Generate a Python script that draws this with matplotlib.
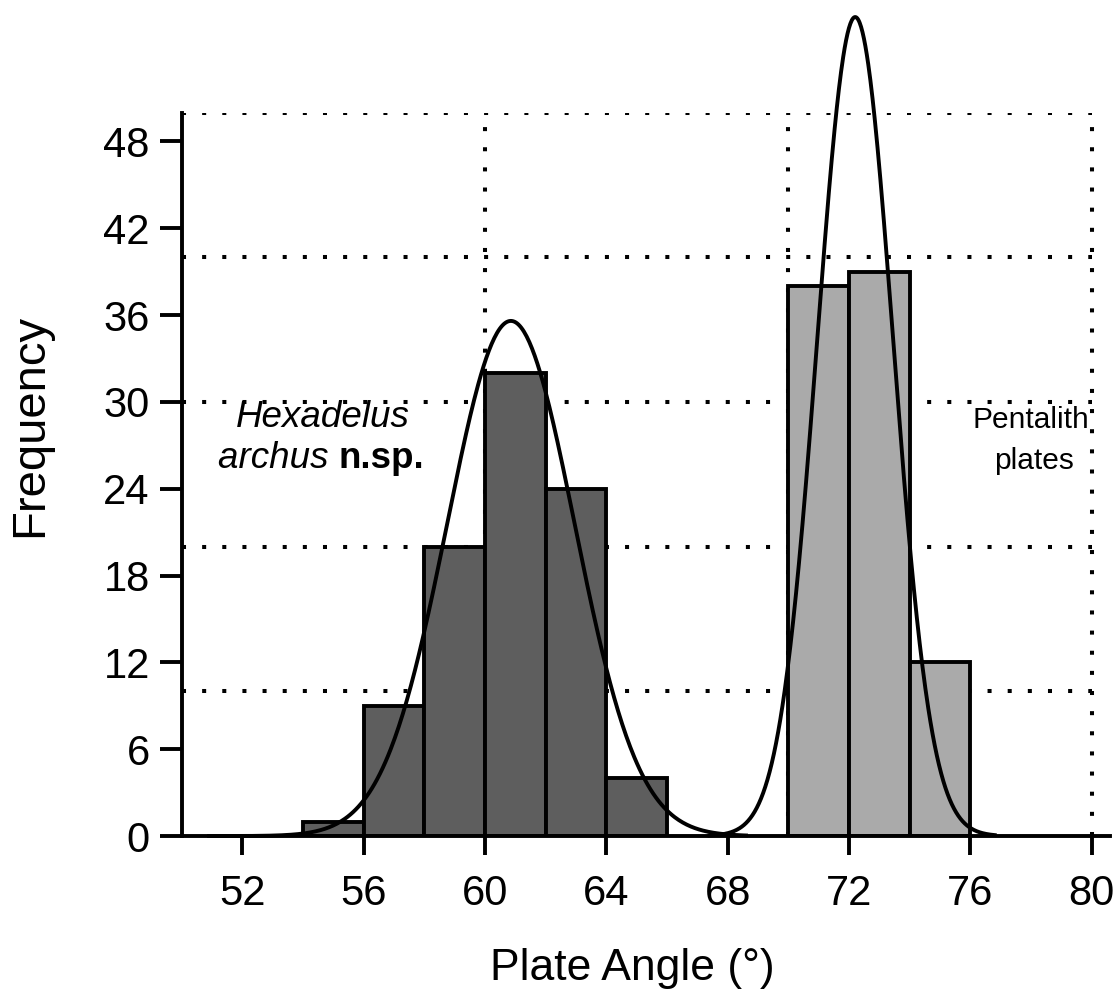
import matplotlib
matplotlib.use("Agg")
import matplotlib.pyplot as plt
import numpy as np

plt.rcParams["font.family"] = ["Liberation Sans", "DejaVu Sans"]

# histogram bins (plate angle, degrees) and counts
hex_edges = [54, 56, 58, 60, 62, 64, 66]
hex_counts = [1, 9, 20, 32, 24, 4]
pent_edges = [70, 72, 74, 76]
pent_counts = [38, 39, 12]

# fitted normal curves: mean, sd, peak height, drawn range
hex_fit = {"mean": 60.85, "sd": 2.1, "peak": 35.6, "range": (50.9, 68.6)}
pent_fit = {"mean": 72.2, "sd": 1.25, "peak": 56.6, "range": (67.4, 76.8)}

x_ticks = [52, 56, 60, 64, 68, 72, 76, 80]
y_ticks = [0, 6, 12, 18, 24, 30, 36, 42, 48]
grid_x = [60, 70, 80]
grid_y = [10, 20, 30, 40, 50]

DARK = "#5e5e5e"
LIGHT = "#aaaaaa"
LW = 2.8

fig = plt.figure(figsize=(11.13, 9.96), dpi=100)
ax = fig.add_axes([0.1633, 0.1606, 0.834, 0.7264])

# dotted grid, behind everything
dot = dict(color="black", linewidth=2.9, linestyle=(0, (1, 4)), zorder=0)
ax.hlines(grid_y, 50, 80, **dot)
ax.vlines(grid_x, 0, 50, **dot)


def draw_hist(edges, counts, color):
    left = np.array(edges[:-1], dtype=float)
    width = np.diff(edges)
    ax.bar(left, counts, width=width, align="edge", color=color,
           edgecolor="black", linewidth=LW, zorder=2)


def draw_fit(fit):
    xs = np.linspace(*fit["range"], 400)
    ys = fit["peak"] * np.exp(-0.5 * ((xs - fit["mean"]) / fit["sd"]) ** 2)
    ax.plot(xs, ys, color="black", linewidth=LW, zorder=3, clip_on=False,
            solid_joinstyle="round")


draw_hist(hex_edges, hex_counts, DARK)
draw_hist(pent_edges, pent_counts, LIGHT)
draw_fit(hex_fit)
draw_fit(pent_fit)

ax.set_xlim(50, 80.6)
ax.set_ylim(0, 50)
for side in ("top", "right"):
    ax.spines[side].set_visible(False)
for side in ("left", "bottom"):
    ax.spines[side].set_linewidth(LW)
    ax.spines[side].set_zorder(4)

ax.set_xticks(x_ticks)
ax.set_yticks(y_ticks)
ax.tick_params(axis="x", direction="out", length=14, width=LW, pad=13,
               labelsize=30)
ax.tick_params(axis="y", direction="out", length=16, width=LW, pad=7,
               labelsize=30)

# species labels
ax.text(54.65, 28.3, "Hexadelus", style="italic", fontsize=26.5,
        ha="center", va="baseline")
t1 = ax.text(51.19, 25.45, "archus ", style="italic", fontsize=26.5,
             ha="left", va="baseline")
ax.annotate("n.sp.", xy=(1, 0), xycoords=t1, fontsize=26.5,
            fontweight="bold", ha="left", va="bottom")
ax.text(78.0, 28.2, "Pentalith", fontsize=21.5, ha="center", va="baseline")
ax.text(78.1, 25.4, "plates", fontsize=21.5, ha="center", va="baseline")

fig.text(30 / 1113, 1 - 425 / 996, "Frequency", rotation=90, fontsize=34,
         ha="center", va="center")
fig.text(632 / 1113, 1 - 968 / 996, "Plate Angle (°)", fontsize=32,
         ha="center", va="center")

fig.savefig("out.png", dpi=100)
